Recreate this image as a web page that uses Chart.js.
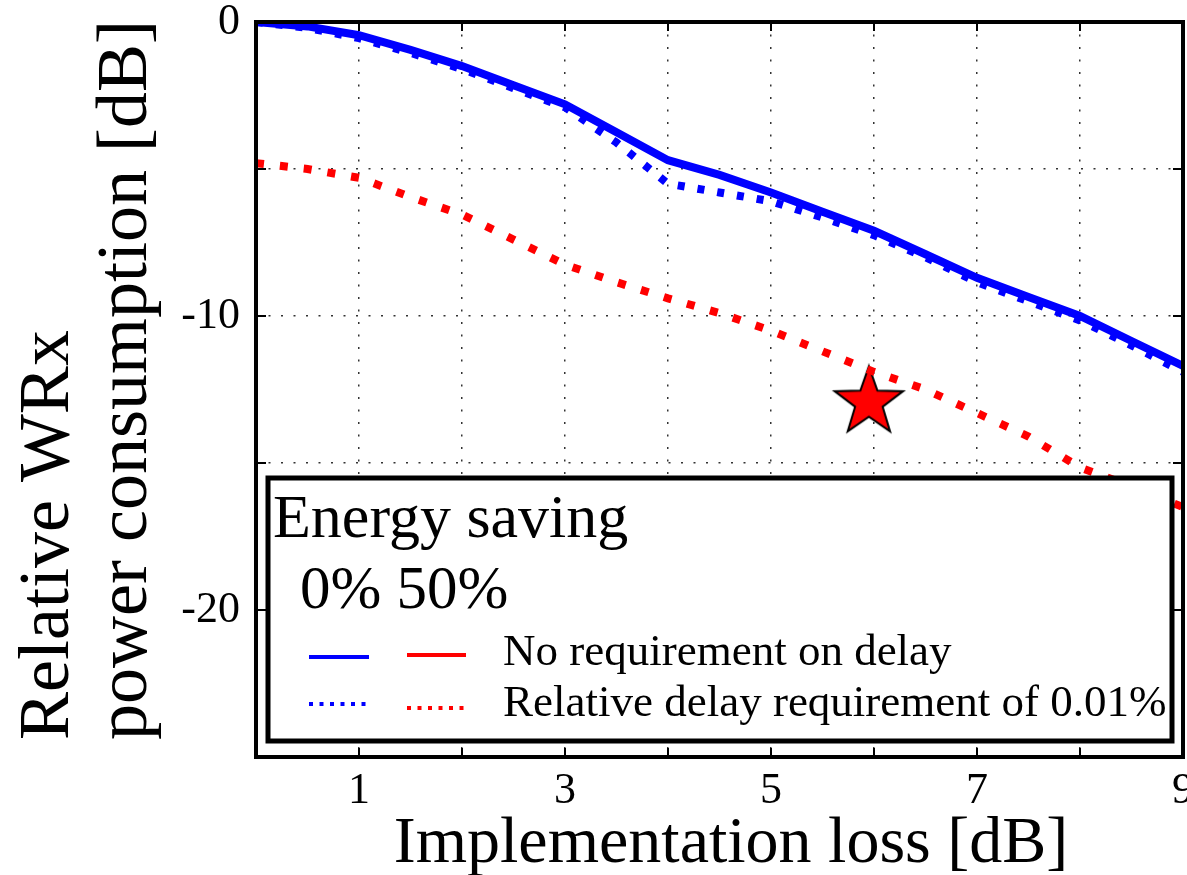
<!DOCTYPE html>
<html>
<head>
<meta charset="utf-8">
<script src="https://cdn.jsdelivr.net/npm/chart.js@4"></script>
<style>
  html, body { margin: 0; padding: 0; background: #fff; }
  #c { display: block; }
</style>
</head>
<body>
<canvas id="c" width="1187" height="875"></canvas>
<script>
// Dữ liệu
const lossX = [0, 0.5, 1, 1.5, 2, 2.5, 3, 3.5, 4, 4.5, 5, 5.5, 6, 6.5, 7, 7.5, 8, 8.5, 9];
const noReq0 = [0, -0.15, -0.45, -0.95, -1.5, -2.15, -2.8, -3.75, -4.7, -5.2, -5.8, -6.45, -7.1, -7.9, -8.7, -9.35, -10.0, -10.85, -11.7];
const delayReq0 = [0, -0.2, -0.55, -1.05, -1.6, -2.25, -2.9, -4.1, -5.5, -5.8, -6.1, -6.65, -7.25, -8.0, -8.85, -9.5, -10.15, -11.0, -11.9];
const delayReq50 = [-4.8, -5.0, -5.3, -5.95, -6.55, -7.4, -8.25, -8.85, -9.4, -9.9, -10.5, -11.2, -11.9, -12.5, -13.3, -14.1, -15.15, -15.8, -16.5];
const starPoint = [{ x: 5.95, y: -12.9 }];

const xTicks = [1, 3, 5, 7, 9];
const yTicks = [0, -10, -20];

const legendTitle = 'Energy saving';
const legendCols = '0% 50%';
const legendRows = ['No requirement on delay', 'Relative delay requirement of 0.01%'];

const SERIF = '"Liberation Serif", "DejaVu Serif", serif';
const toXY = ys => lossX.map((x, i) => ({ x: x, y: ys[i] }));

// Ngôi sao đỏ
const starImg = document.createElement('canvas');
starImg.width = 76; starImg.height = 76;
(function () {
  const s = starImg.getContext('2d');
  const R = 36, r = 14.5, cx = 38, cy = 39;
  s.beginPath();
  for (let i = 0; i < 10; i++) {
    const rad = i % 2 === 0 ? R : r;
    const a = -Math.PI / 2 + i * Math.PI / 5;
    s.lineTo(cx + rad * Math.cos(a), cy + rad * Math.sin(a));
  }
  s.closePath();
  s.fillStyle = '#ff0000';
  s.fill();
  s.lineWidth = 2;
  s.strokeStyle = '#000';
  s.stroke();
})();

// Khung, vạch chia, chú thích, tiêu đề trục
const decor = {
  id: 'decor',
  afterDatasetsDraw(chart) {
    const { ctx, chartArea: a, scales: { x, y } } = chart;
    ctx.save();

    // vạch chia hướng vào trong
    ctx.strokeStyle = '#000';
    ctx.lineWidth = 2;
    x.ticks.forEach(t => {
      const px = x.getPixelForValue(t.value);
      ctx.beginPath();
      ctx.moveTo(px, a.top); ctx.lineTo(px, a.top + 9);
      ctx.moveTo(px, a.bottom); ctx.lineTo(px, a.bottom - 9);
      ctx.stroke();
    });
    y.ticks.forEach(t => {
      const py = y.getPixelForValue(t.value);
      ctx.beginPath();
      ctx.moveTo(a.left, py); ctx.lineTo(a.left + 10, py);
      ctx.moveTo(a.right, py); ctx.lineTo(a.right - 10, py);
      ctx.stroke();
    });

    // chú thích
    ctx.fillStyle = '#fff';
    ctx.fillRect(268, 478, 904, 263);
    ctx.lineWidth = 5;
    ctx.strokeStyle = '#000';
    ctx.strokeRect(268, 478, 904, 263);

    ctx.fillStyle = '#000';
    ctx.textAlign = 'left';
    ctx.textBaseline = 'alphabetic';
    ctx.font = '62px ' + SERIF;
    ctx.fillText(legendTitle, 273, 537);
    ctx.font = '61px ' + SERIF;
    ctx.fillText(legendCols, 300, 608);

    const sample = (x0, x1, yy, color, dash) => {
      ctx.beginPath();
      ctx.setLineDash(dash);
      ctx.lineWidth = 4;
      ctx.lineCap = 'butt';
      ctx.strokeStyle = color;
      ctx.moveTo(x0, yy); ctx.lineTo(x1, yy);
      ctx.stroke();
    };
    sample(309, 369, 657, '#0000ff', []);
    sample(407, 466, 655, '#ff0000', []);
    sample(309, 369, 704, '#0000ff', [4, 6.5]);
    sample(407, 466, 708, '#ff0000', [4, 6.5]);
    ctx.setLineDash([]);

    ctx.font = '45px ' + SERIF;
    ctx.fillText(legendRows[0], 503, 665);
    ctx.fillText(legendRows[1], 503, 716);

    // khung trục
    ctx.lineWidth = 4;
    ctx.strokeStyle = '#000';
    ctx.strokeRect(a.left, a.top, a.right - a.left, a.bottom - a.top);

    // tiêu đề trục
    ctx.font = '66px ' + SERIF;
    ctx.textAlign = 'center';
    ctx.fillText('Implementation loss [dB]', 731, 862);

    ctx.save();
    ctx.translate(0, 740);
    ctx.rotate(-Math.PI / 2);
    ctx.textAlign = 'left';
    ctx.font = '72px ' + SERIF;
    ctx.fillText('Relative WRx', 0, 68);
    ctx.fillText('power consumption [dB]', 0, 146);
    ctx.restore();

    ctx.restore();
  }
};

const noPad = s => {
  s.paddingLeft = 0; s.paddingRight = 0; s.paddingTop = 0; s.paddingBottom = 0;
};

const chart = new Chart(document.getElementById('c'), {
  type: 'line',
  data: {
    datasets: [
      {
        label: 'Relative delay requirement of 0.01% (50%)',
        data: toXY(delayReq50),
        borderColor: '#ff0000',
        borderWidth: 8,
        borderDash: [8, 16],
        borderCapStyle: 'butt',
        pointRadius: 0,
        tension: 0,
        fill: false
      },
      {
        label: 'Relative delay requirement of 0.01% (0%)',
        data: toXY(delayReq0),
        borderColor: '#0000ff',
        borderWidth: 8,
        borderDash: [7, 13],
        borderCapStyle: 'butt',
        pointRadius: 0,
        tension: 0,
        fill: false
      },
      {
        label: 'No requirement on delay (0%)',
        data: toXY(noReq0),
        borderColor: '#0000ff',
        borderWidth: 8,
        pointRadius: 0,
        tension: 0,
        fill: false
      },
      {
        label: 'star',
        data: starPoint,
        showLine: false,
        pointStyle: starImg,
        pointRadius: 36,
        borderWidth: 0
      }
    ]
  },
  options: {
    responsive: false,
    animation: false,
    devicePixelRatio: 1,
    layout: { autoPadding: false, padding: { left: 0, top: 22, right: 4, bottom: 0 } },
    plugins: {
      legend: { display: false },
      tooltip: { enabled: false }
    },
    scales: {
      x: {
        type: 'linear',
        min: 0,
        max: 9,
        afterBuildTicks: s => { s.ticks = lossX.filter(v => Number.isInteger(v)).map(v => ({ value: v })); },
        ticks: {
          color: '#000',
          font: { family: SERIF, size: 44 },
          padding: 8,
          maxRotation: 0,
          autoSkip: false,
          callback: v => xTicks.includes(v) ? String(v) : ''
        },
        grid: { color: '#333', lineWidth: 1.5, drawTicks: false, tickLength: 0 },
        border: { display: false, dash: [2, 10.5] },
        afterFit: s => { s.height = 118; noPad(s); }
      },
      y: {
        type: 'linear',
        min: -25,
        max: 0,
        ticks: {
          stepSize: 5,
          color: '#000',
          font: { family: SERIF, size: 44 },
          padding: 16,
          callback: v => yTicks.includes(v) ? String(v) : ''
        },
        grid: { color: '#333', lineWidth: 1.5, drawTicks: false, tickLength: 0 },
        border: { display: false, dash: [2, 10.5] },
        afterFit: s => { s.width = 256; noPad(s); }
      }
    }
  },
  plugins: [decor]
});
</script>
</body>
</html>
